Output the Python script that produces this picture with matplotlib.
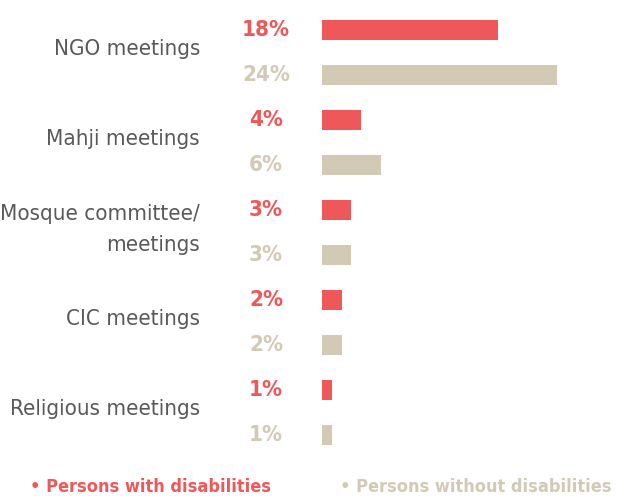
import matplotlib
matplotlib.use("Agg")
import matplotlib.pyplot as plt

# data
categories = ["NGO meetings", "Mahji meetings", "Mosque committee/\nmeetings", "CIC meetings", "Religious meetings"]
with_dis = [18, 4, 3, 2, 1]
without_dis = [24, 6, 3, 2, 1]
series_names = ["Persons with disabilities", "Persons without disabilities"]

red = "#EF5858"
beige = "#D3CAB5"
grey = "#595959"
font = ["DejaVu Sans"]

W, H = 617, 496
fig = plt.figure(figsize=(W / 100, H / 100), dpi=100)
# axes starts where bars start (x=322 px), 9.78 px per percent
ax = fig.add_axes([322 / W, 0, (W - 322) / W, 1])
ax.set_xlim(0, (W - 322) / 9.78)
# bar i sits at pixel 30 + 45*i
ax.set_ylim((H - 30) / 45, -30 / 45)
ax.axis("off")

px = 9.78
for i, cat in enumerate(categories):
    yr = 2 * i
    yb = 2 * i + 1
    ax.barh(yr, with_dis[i], height=0.43, color=red)
    ax.barh(yb, without_dis[i], height=0.43, color=beige)
    ax.text((266 - 322) / px, yr, f"{with_dis[i]}%", color=red, ha="center", va="center",
            fontsize=16, fontweight="bold", family=font, fontstretch="condensed", clip_on=False)
    ax.text((266 - 322) / px, yb, f"{without_dis[i]}%", color=beige, ha="center", va="center",
            fontsize=16, fontweight="bold", family=font, fontstretch="condensed", clip_on=False)
    ax.text((200 - 322) / px, yr + 0.5 - 0.07, cat, color=grey, ha="right", va="center",
            fontsize=16, family=font, fontstretch="condensed", clip_on=False, linespacing=1.7)

fig.text(30 / W, 1 - 487 / H, "\u2022 " + series_names[0], color=red, fontsize=13,
         fontweight="bold", family=font, fontstretch="condensed", ha="left", va="center")
fig.text(340 / W, 1 - 487 / H, "\u2022 " + series_names[1], color=beige, fontsize=13,
         fontweight="bold", family=font, fontstretch="condensed", ha="left", va="center")

fig.savefig("out.png", dpi=100)
